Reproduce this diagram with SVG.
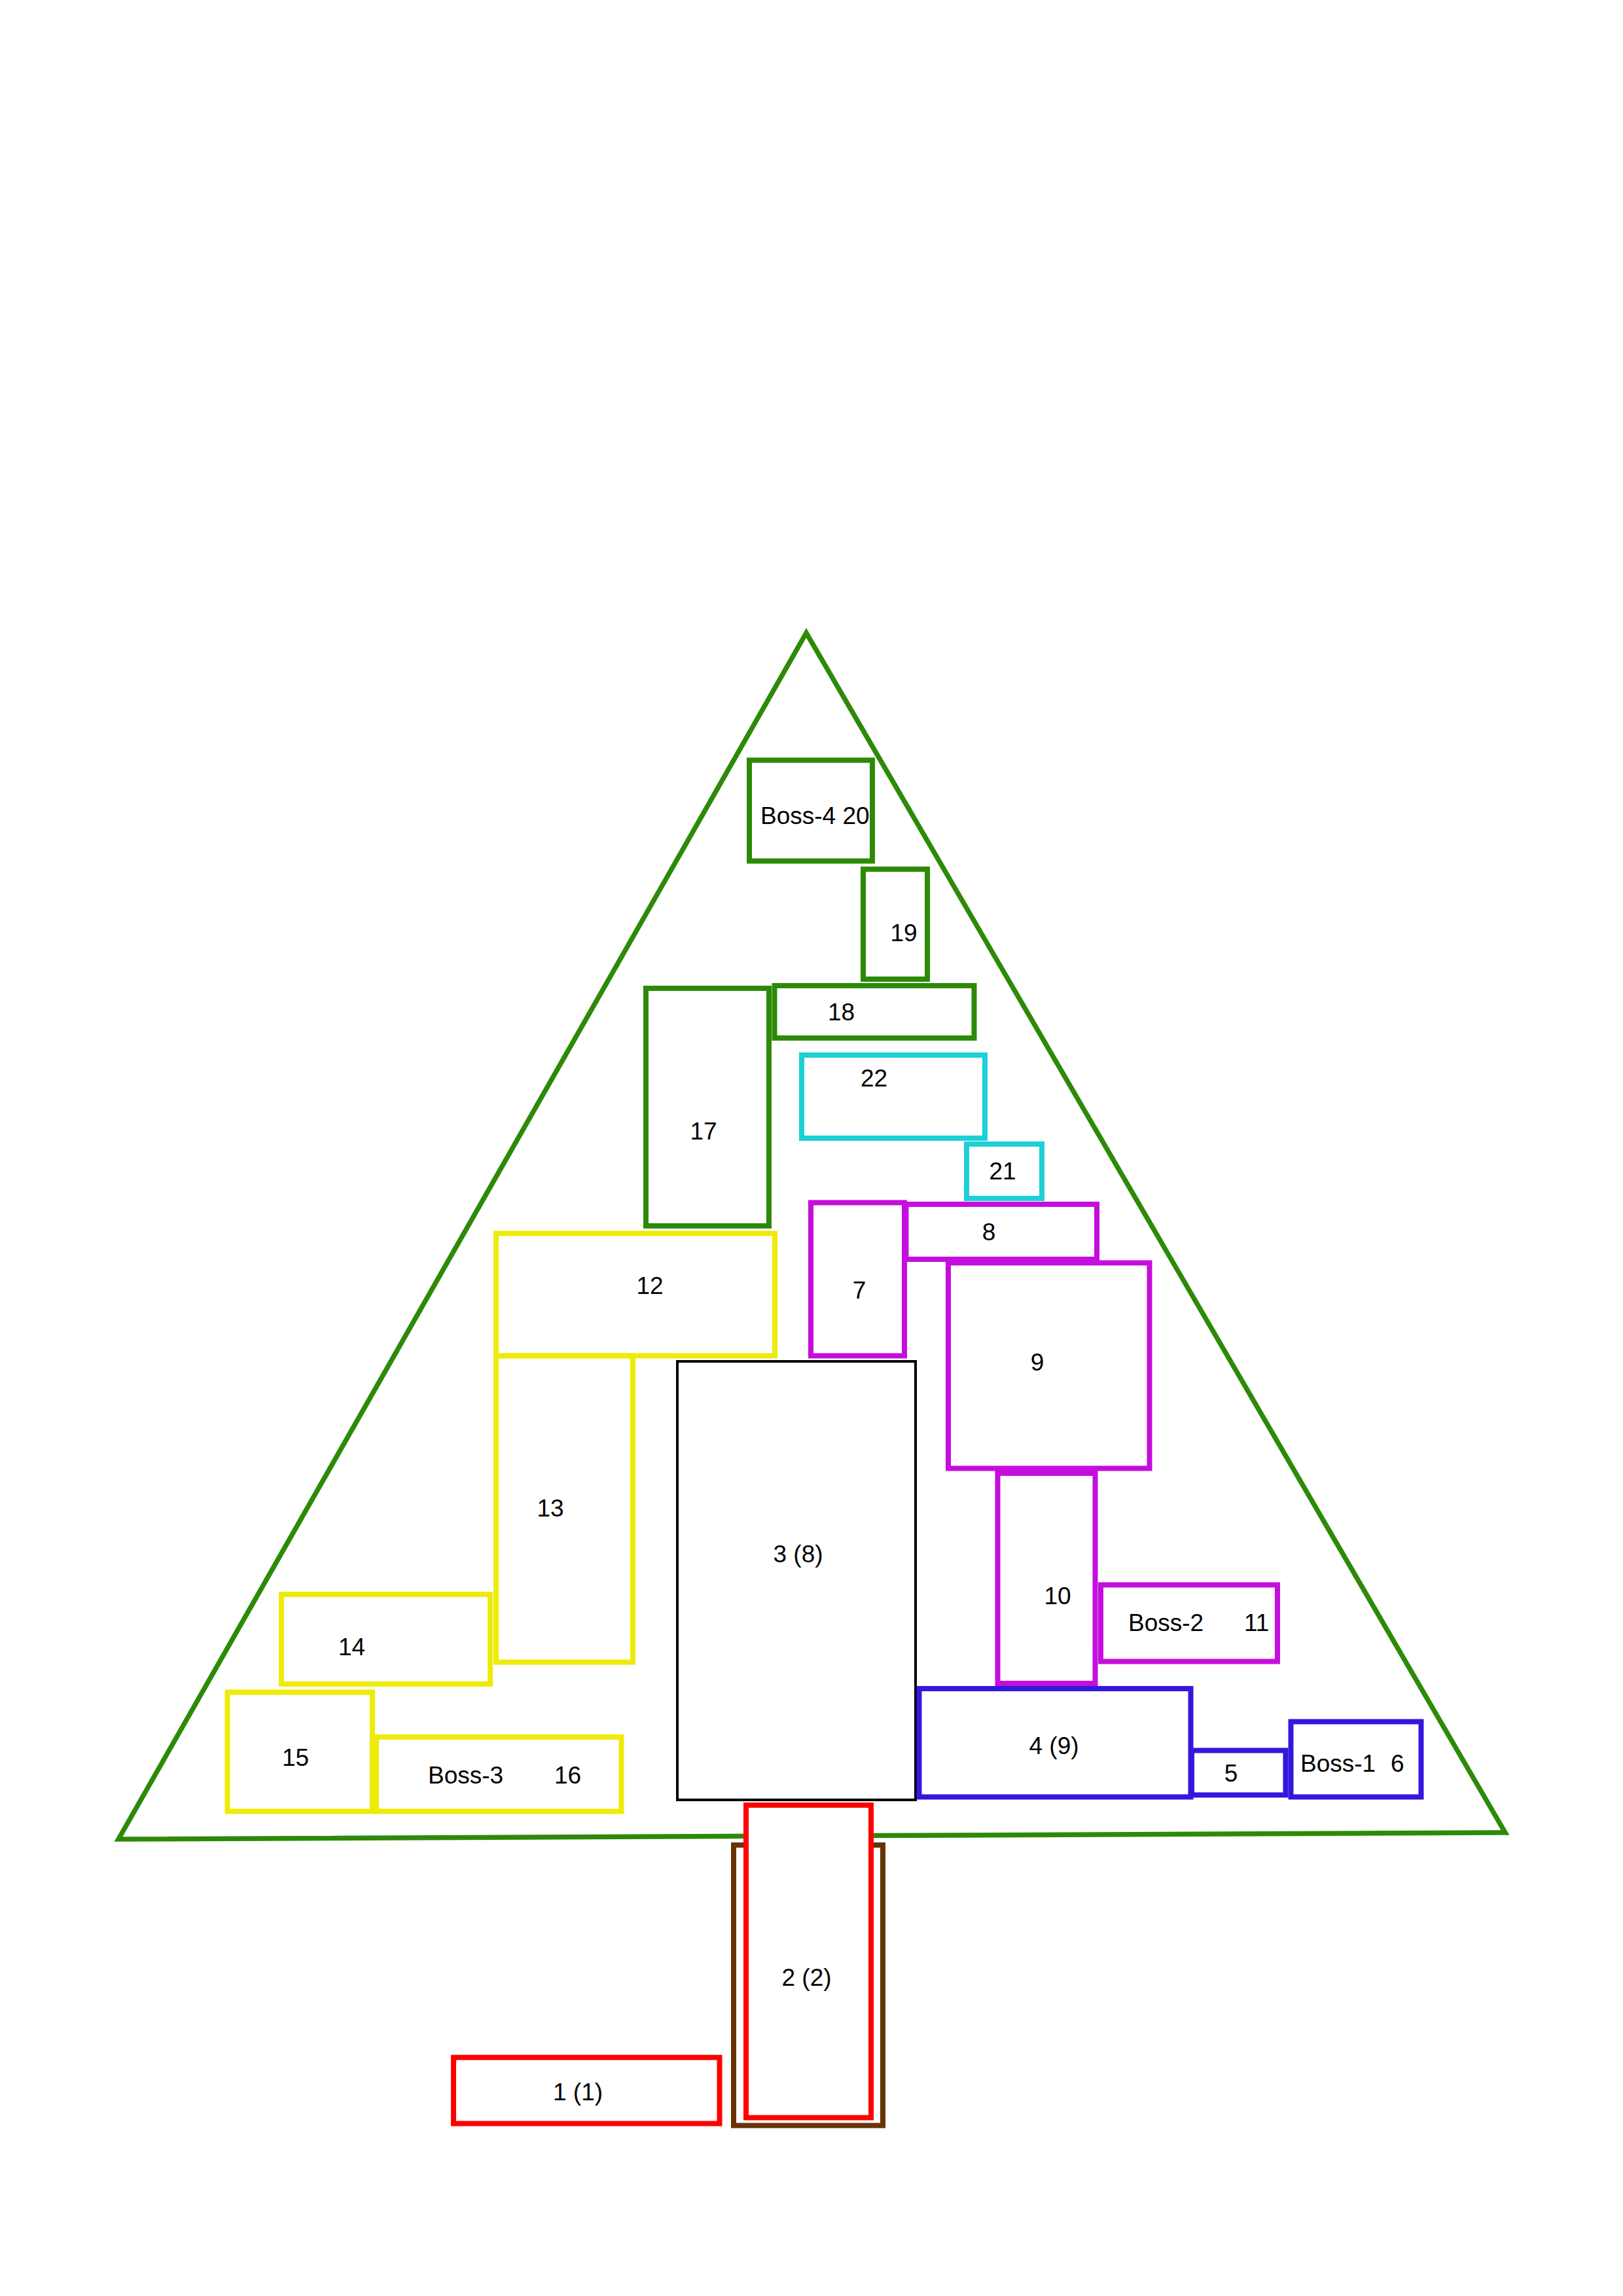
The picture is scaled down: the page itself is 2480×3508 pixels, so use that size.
<svg xmlns="http://www.w3.org/2000/svg" width="2480" height="3508" viewBox="0 0 2480 3508">
<style>
rect, polygon { fill: none; }
.g { stroke: #2d8a08; stroke-width: 8; }
.y { stroke: #eeea0a; stroke-width: 8; }
.m { stroke: #c50edd; stroke-width: 8; }
.b { stroke: #3417dd; stroke-width: 8; }
.c { stroke: #1dcfd6; stroke-width: 8; }
.r { stroke: #ff0000; stroke-width: 8; }
.br { stroke: #663406; stroke-width: 8; }
.k { stroke: #000000; stroke-width: 4; }
.w { fill: #ffffff; }
text { font-family: "Liberation Sans", Arial, sans-serif; font-size: 37px; fill: #000; }
.mid { text-anchor: middle; }
</style>
<rect x="0" y="0" width="2480" height="3508" style="fill:#ffffff"/>
<g id="tree">
<polygon class="g" points="1232,967 2300,2800 181,2810" stroke-linejoin="miter" style="stroke-width:7.5"/>
</g>
<g id="connectors"></g>
<g id="n20"><rect class="g" x="1145" y="1161.5" width="188" height="154"/><text x="1162" y="1259">Boss-4 20</text></g>
<g id="n19"><rect class="g" x="1319" y="1328" width="98" height="168"/><text class="mid" x="1381" y="1438">19</text></g>
<g id="n17"><rect class="g" x="987" y="1510" width="188" height="363"/><text class="mid" x="1075" y="1741">17</text></g>
<g id="n18"><rect class="g" x="1183.5" y="1506" width="305" height="80"/><text class="mid" x="1285.5" y="1559">18</text></g>
<g id="n22"><rect class="c" x="1225" y="1612" width="280" height="127"/><text class="mid" x="1335.5" y="1660">22</text></g>
<g id="n21"><rect class="c" x="1477" y="1748" width="115" height="83"/><text class="mid" x="1532" y="1802">21</text></g>
<g id="n7"><rect class="m" x="1239" y="1837.5" width="143" height="234"/><text class="mid" x="1313" y="1984">7</text></g>
<g id="n8"><rect class="m" x="1384.5" y="1840" width="291.5" height="84"/><text class="mid" x="1511" y="1895">8</text></g>
<g id="n9"><rect class="m" x="1449" y="1929.5" width="307.5" height="314"/><text class="mid" x="1585" y="2094">9</text></g>
<g id="n12"><rect class="y" x="758" y="1884.5" width="426" height="187"/><text class="mid" x="993" y="1977">12</text></g>
<g id="n13"><rect class="y" x="758" y="2071.5" width="209" height="468"/><text class="mid" x="841" y="2317">13</text></g>
<g id="n3"><rect class="k" x="1035" y="2080" width="364" height="670"/><text class="mid" x="1219.5" y="2387">3 (8)</text></g>
<g id="n10"><rect class="m" x="1524.5" y="2251" width="149" height="321"/><text class="mid" x="1616" y="2451">10</text></g>
<g id="n11"><rect class="m" x="1682" y="2421.5" width="270" height="117"/><text y="2492"><tspan x="1724">Boss-2</tspan><tspan x="1901">11</tspan></text></g>
<g id="n4"><rect class="b" x="1404.5" y="2580" width="415" height="165.5"/><text class="mid" x="1610.5" y="2679.5">4 (9)</text></g>
<g id="n5"><rect class="b" x="1821" y="2674.5" width="143.5" height="68"/><text class="mid" x="1881" y="2721.5">5</text></g>
<g id="n6"><rect class="b" x="1972.5" y="2630.5" width="199" height="115"/><text y="2707"><tspan x="1987">Boss-1</tspan><tspan x="2125">6</tspan></text></g>
<g id="n14"><rect class="y" x="430" y="2436" width="319" height="137"/><text class="mid" x="537.5" y="2529">14</text></g>
<g id="n15"><rect class="y" x="347.5" y="2585.5" width="221.5" height="182"/><text class="mid" x="451.5" y="2697.5">15</text></g>
<g id="n16"><rect class="y" x="575" y="2654" width="374.5" height="113.5"/><text y="2724.5"><tspan x="654">Boss-3</tspan><tspan x="847">16</tspan></text></g>
<g id="trunk"><rect class="br" x="1121" y="2819" width="228" height="428.5"/></g>
<g id="n2"><rect class="r w" x="1140" y="2758" width="191" height="477.5"/><text class="mid" x="1232.5" y="3033.5">2 (2)</text></g>
<g id="n1"><rect class="r" x="693" y="3143.5" width="406.5" height="101"/><text class="mid" x="883" y="3209">1 (1)</text></g>
</svg>
